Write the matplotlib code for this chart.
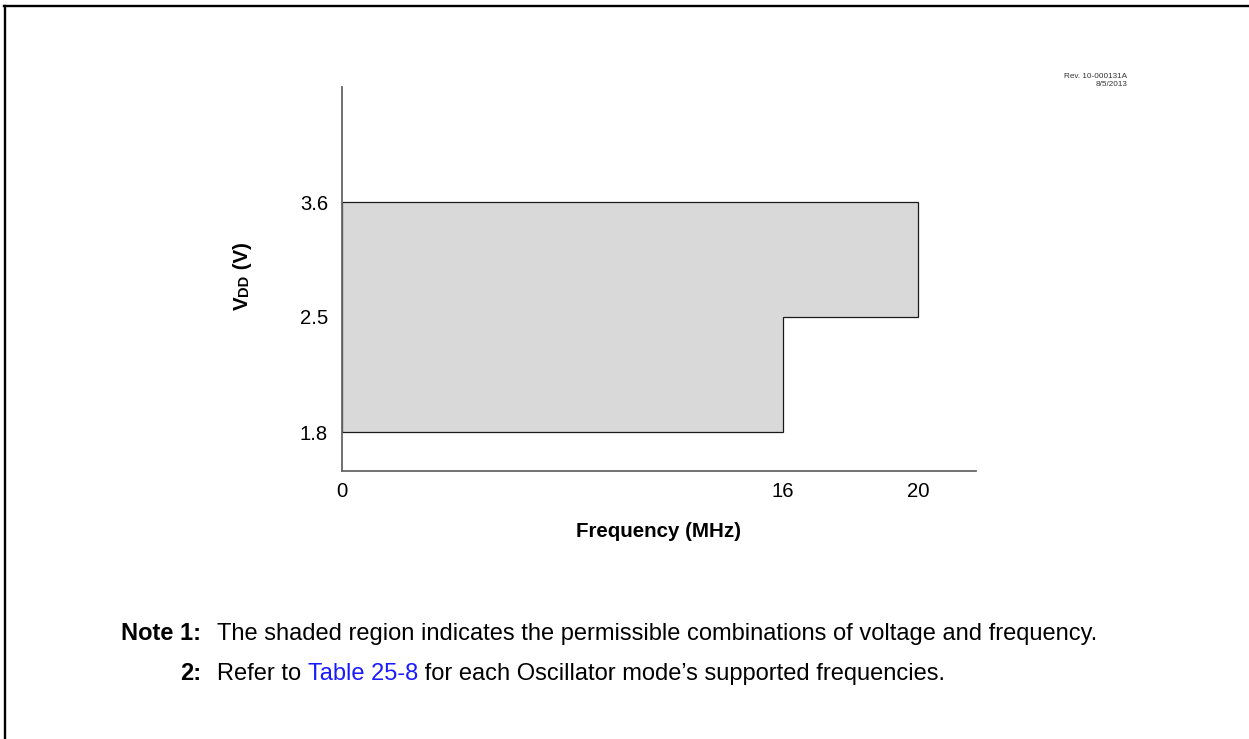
import matplotlib

matplotlib.use("Agg")
import matplotlib.pyplot as plt
import numpy as np
from matplotlib.lines import Line2D

# operating region: VDD levels and the max frequency allowed in each band
vdd_levels = [1.8, 2.5, 3.6]
fmax_per_band = [16, 20]
x_ticks = [0, 16, 20]
y_ticks = [1.8, 2.5, 3.6]

W, H = 1249, 739
plt.rcParams["font.family"] = ["Liberation Sans", "DejaVu Sans"]


def piecewise(knots_in, knots_out):
    """linear interpolation between knots, linear extrapolation outside"""
    kin = np.asarray(knots_in, float)
    kout = np.asarray(knots_out, float)

    def f(v):
        v = np.asarray(v, float)
        r = np.interp(v, kin, kout)
        lo = kout[0] + (v - kin[0]) * (kout[1] - kout[0]) / (kin[1] - kin[0])
        hi = kout[-1] + (v - kin[-1]) * (kout[-1] - kout[-2]) / (kin[-1] - kin[-2])
        return np.where(v < kin[0], lo, np.where(v > kin[-1], hi, r))

    return f


# the chart is not drawn to scale: ticks sit at fixed pixel offsets
x_px = [0, 441, 576]
y_px = [38.4, 153.7, 268.4]
fx, fx_inv = piecewise(x_ticks, x_px), piecewise(x_px, x_ticks)
fy, fy_inv = piecewise(y_ticks, y_px), piecewise(y_px, y_ticks)

fig = plt.figure(figsize=(W / 100, H / 100), dpi=100)
ax_l, ax_r, ax_b, ax_t = 342, 976, 470.7, 87
ax = fig.add_axes([ax_l / W, 1 - ax_b / H, (ax_r - ax_l) / W, (ax_b - ax_t) / H])
ax.set_xscale("function", functions=(fx, fx_inv))
ax.set_yscale("function", functions=(fy, fy_inv))
ax.set_xlim(0, float(fx_inv(ax_r - ax_l)))
ax.set_ylim(float(fy_inv(0)), float(fy_inv(ax_b - ax_t)))

# build the stepped outline from the band data
xs = [0]
ys = [vdd_levels[0]]
for i, f in enumerate(fmax_per_band):
    xs += [f, f]
    ys += [vdd_levels[i], vdd_levels[i + 1]]
xs.append(0)
ys.append(vdd_levels[-1])
ax.fill(xs, ys, facecolor="#d9d9d9", edgecolor="#1a1a1a", linewidth=0.9, zorder=2)

for s in ("top", "right"):
    ax.spines[s].set_visible(False)
for s in ("left", "bottom"):
    ax.spines[s].set_color("#666666")
    ax.spines[s].set_linewidth(1.3)
ax.set_xticks(x_ticks)
ax.set_xticklabels([str(v) for v in x_ticks])
ax.set_yticks(y_ticks)
ax.set_yticklabels([f"{v:.1f}" for v in y_ticks])
ax.xaxis.set_minor_locator(matplotlib.ticker.NullLocator())
ax.yaxis.set_minor_locator(matplotlib.ticker.NullLocator())
ax.tick_params(length=0, labelsize=14.6)
ax.tick_params(axis="x", pad=8)
ax.tick_params(axis="y", pad=10)
ax.set_facecolor("none")

ax.set_xlabel("Frequency (MHz)", fontsize=14.8, fontweight="bold", labelpad=15)

# VDD (V) with small "DD"
t1 = fig.text(242 / W, 1 - 310 / H, "V", rotation=90, fontsize=14.8,
              fontweight="bold", ha="center", va="bottom")
t2 = fig.text(0, 0, "DD", rotation=90, fontsize=10.5, fontweight="bold")
t2.set_ha("right")
t2.set_va("bottom")
fig.canvas.draw()
bb = t1.get_window_extent()
t2.set_position(fig.transFigure.inverted().transform((bb.x1, bb.y1)))
fig.canvas.draw()
bb2 = t2.get_window_extent()
t3 = fig.text(0, 0, " (V)", rotation=90, fontsize=14.8, fontweight="bold",
              ha="center", va="bottom")
t3.set_position(fig.transFigure.inverted().transform(((bb.x0 + bb.x1) / 2, bb2.y1)))

fig.text(1127 / W, 1 - 76 / H, "Rev. 10-000131A", fontsize=5.9, color="#333333",
         ha="right", va="center")
fig.text(1127 / W, 1 - 85 / H, "8/5/2013", fontsize=5.9, color="#333333",
         ha="right", va="center")

# notes
note_fs = 17
y1, y2 = 1 - 640 / H, 1 - 680 / H
fig.text(201 / W, y1, "Note 1:", fontsize=note_fs, fontweight="bold",
         ha="right", va="baseline")
fig.text(217 / W, y1,
         "The shaded region indicates the permissible combinations of voltage and frequency.",
         fontsize=note_fs, ha="left", va="baseline")
fig.text(201 / W, y2, "2:", fontsize=note_fs, fontweight="bold",
         ha="right", va="baseline")
p1 = fig.text(217 / W, y2, "Refer to ", fontsize=note_fs, ha="left", va="baseline")
fig.canvas.draw()
e = p1.get_window_extent()
p2 = fig.text(e.x1 / W, y2, "Table 25-8", fontsize=note_fs, color="#1a1aff",
              ha="left", va="baseline")
fig.canvas.draw()
e = p2.get_window_extent()
fig.text(e.x1 / W, y2, " for each Oscillator mode\u2019s supported frequencies.",
         fontsize=note_fs, ha="left", va="baseline")

# frame at top and left edge
fig.add_artist(Line2D([5 / W, 5 / W], [0, 1 - 6 / H], transform=fig.transFigure,
                      color="black", linewidth=1.7))
fig.add_artist(Line2D([4 / W, 1], [1 - 6 / H, 1 - 6 / H], transform=fig.transFigure,
                      color="black", linewidth=1.7))

fig.savefig("out.png", dpi=100)
